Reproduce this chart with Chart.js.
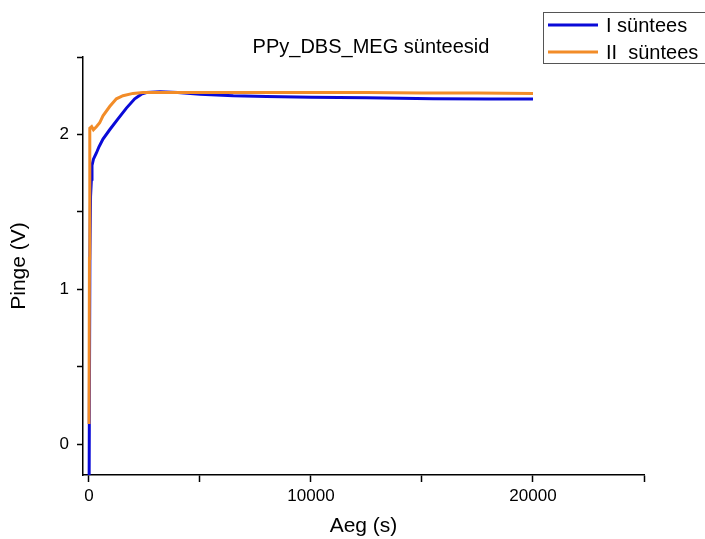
<!DOCTYPE html>
<html>
<head>
<meta charset="utf-8">
<script src="https://cdn.jsdelivr.net/npm/chart.js@4.4.0/dist/chart.umd.min.js"></script>
<style>
  html, body { margin: 0; padding: 0; background: #fff; }
  #wrap { width: 705px; height: 539px; }
</style>
</head>
<body>
<div id="wrap"><canvas id="chart" width="705" height="539"></canvas></div>
<script>
// series I (blue)
const timeI = [0, 40, 70, 108, 135, 200, 333, 450, 630, 932, 1306, 1685, 2059, 2360, 2586, 3200, 4000, 5000, 6500, 8000, 10000, 12500, 15500, 18000, 20000];
const voltI = [-0.5, 1.2, 1.6, 1.71, 1.80, 1.84, 1.88, 1.92, 1.97, 2.03, 2.10, 2.17, 2.23, 2.26, 2.27, 2.275, 2.27, 2.26, 2.25, 2.245, 2.24, 2.237, 2.23, 2.229, 2.228];

// series II (orange)
const timeII = [0, 20, 36, 120, 200, 333, 482, 630, 932, 1234, 1532, 1982, 2432, 3500, 5000, 7500, 10000, 12500, 15000, 17500, 20000];
const voltII = [0.13, 1.2, 2.04, 2.05, 2.03, 2.05, 2.075, 2.12, 2.18, 2.23, 2.25, 2.265, 2.27, 2.27, 2.27, 2.27, 2.27, 2.27, 2.268, 2.267, 2.265];

const seriesLabels = ['I süntees', 'II  süntees'];
const xTicks = [0, 5000, 10000, 15000, 20000, 25000];
const yTicks = [0, 0.5, 1, 1.5, 2, 2.5];
const chartTitle = 'PPy_DBS_MEG sünteesid';

const FONT = '"Liberation Sans", Arial, sans-serif';

// title + boxed legend, drawn by hand to sit where the original puts them
const decorations = {
  id: 'decorations',
  afterDraw(chart) {
    const ctx = chart.ctx;
    ctx.save();
    ctx.fillStyle = '#000';
    ctx.font = '20px ' + FONT;
    ctx.textAlign = 'center';
    ctx.textBaseline = 'alphabetic';
    ctx.fillText(chartTitle, 371, 53);

    // legend box
    ctx.strokeStyle = '#555';
    ctx.lineWidth = 1;
    ctx.strokeRect(543.5, 12.5, 170, 51);
    ctx.textAlign = 'left';
    ctx.textBaseline = 'middle';
    const rows = [25, 52];
    chart.data.datasets.forEach((ds, i) => {
      ctx.strokeStyle = ds.borderColor;
      ctx.lineWidth = 3;
      ctx.beginPath();
      ctx.moveTo(548, rows[i]);
      ctx.lineTo(598, rows[i]);
      ctx.stroke();
      ctx.fillStyle = '#000';
      ctx.fillText(ds.label, 606, rows[i] + 1);
    });
    ctx.restore();
  }
};

new Chart(document.getElementById('chart'), {
  type: 'line',
  data: {
    datasets: [
      {
        label: seriesLabels[0],
        data: timeI.map((t, i) => ({ x: t, y: voltI[i] })),
        borderColor: '#0a0ad8',
        borderWidth: 3,
        pointRadius: 0,
        tension: 0,
        order: 1
      },
      {
        label: seriesLabels[1],
        data: timeII.map((t, i) => ({ x: t, y: voltII[i] })),
        borderColor: '#f28c28',
        borderWidth: 3,
        pointRadius: 0,
        tension: 0,
        order: 0
      }
    ]
  },
  options: {
    responsive: false,
    animation: false,
    devicePixelRatio: 1,
    layout: { padding: { top: 57, right: 61, left: 0, bottom: 0 } },
    plugins: {
      legend: { display: false },
      title: { display: false },
      tooltip: { enabled: false }
    },
    scales: {
      x: {
        type: 'linear',
        min: -270,
        max: 25000,
        afterBuildTicks: (s) => { s.ticks = xTicks.map(v => ({ value: v })); },
        afterFit: (s) => { s.height = 64; },
        ticks: {
          color: '#000',
          font: { family: FONT, size: 17 },
          padding: 4,
          maxRotation: 0,
          autoSkip: false,
          callback: (v) => (v % 10000 === 0 ? String(v) : '')
        },
        grid: { drawOnChartArea: false, drawTicks: true, tickLength: 7, tickColor: '#000', tickWidth: 1.5 },
        border: { display: true, color: '#000', width: 1.5 },
        title: {
          display: true,
          text: 'Aeg (s)',
          color: '#000',
          font: { family: FONT, size: 21 },
          padding: { top: 0, bottom: 0 }
        }
      },
      y: {
        type: 'linear',
        min: -0.2,
        max: 2.5,
        afterBuildTicks: (s) => { s.ticks = yTicks.map(v => ({ value: v })); },
        afterFit: (s) => { s.width = 83; },
        ticks: {
          color: '#000',
          font: { family: FONT, size: 17 },
          padding: 8,
          autoSkip: false,
          callback: (v) => (Number.isInteger(v) && v < 2.5 ? String(v) : '')
        },
        grid: { drawOnChartArea: false, drawTicks: true, tickLength: 6, tickColor: '#000', tickWidth: 1.5 },
        border: { display: true, color: '#000', width: 1.5 },
        title: {
          display: true,
          text: 'Pinge (V)',
          color: '#000',
          font: { family: FONT, size: 21 },
          padding: { top: 7, bottom: 0 }
        }
      }
    }
  },
  plugins: [decorations]
});
</script>
</body>
</html>
